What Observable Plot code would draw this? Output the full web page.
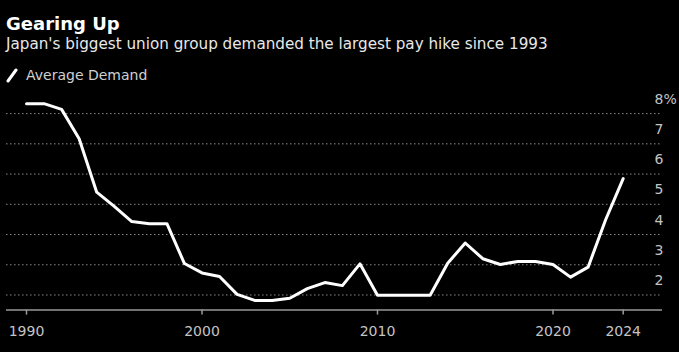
<!DOCTYPE html>
<html>
<head>
<meta charset="utf-8">
<script src="https://cdn.jsdelivr.net/npm/d3@7"></script>
<script src="https://cdn.jsdelivr.net/npm/@observablehq/plot@0.6"></script>
<style>
  html, body { margin: 0; padding: 0; background: #000; width: 679px; height: 352px; overflow: hidden; }
  body { font-family: "DejaVu Sans", sans-serif; }
  #header { position: relative; height: 88px; width: 679px; }
  #title { position: absolute; left: 6px; top: 13px; font-size: 18px; font-weight: bold; color: #fff; line-height: 22px; white-space: nowrap; }
  #subtitle { position: absolute; left: 6px; top: 35px; font-size: 15.2px; color: #e8e8e8; line-height: 19px; white-space: nowrap; }
  #legend { position: absolute; left: 6px; top: 66px; font-size: 14px; color: #d0d0d0; line-height: 18px; white-space: nowrap; display: flex; align-items: center; }
  #legend svg { margin-right: 6px; }
  #chart svg { display: block; }
</style>
</head>
<body>
<div id="header">
  <div id="title">Gearing Up</div>
  <div id="subtitle">Japan's biggest union group demanded the largest pay hike since 1993</div>
  <div id="legend"><svg width="14" height="16"><line x1="2" y1="14" x2="10" y2="3" stroke="#fff" stroke-width="3" stroke-linecap="round"/></svg><span>Average Demand</span></div>
</div>
<div id="chart"></div>
<script>
const years = [1990,1991,1992,1993,1994,1995,1996,1997,1998,1999,
               2000,2001,2002,2003,2004,2005,2006,2007,2008,2009,
               2010,2011,2012,2013,2014,2015,2016,2017,2018,2019,
               2020,2021,2022,2023,2024];
const averageDemand = [8.33,8.33,8.14,7.17,5.40,4.93,4.43,4.36,4.36,3.04,
                       2.73,2.61,2.02,1.82,1.82,1.89,2.21,2.41,2.31,3.03,
                       1.99,1.99,1.99,1.99,3.05,3.72,3.20,3.01,3.11,3.11,
                       3.01,2.59,2.92,4.49,5.85];
const xTicks = [1990, 2000, 2010, 2020, 2024];
const yTicks = [2, 3, 4, 5, 6, 7, 8];

const data = years.map((year, i) => ({year, value: averageDemand[i]}));

const chart = Plot.plot({
  width: 679,
  height: 264,
  marginLeft: 6,
  marginRight: 17,
  marginTop: 10,
  marginBottom: 42.4,
  style: { background: "#000", color: "#c4c4c4", fontFamily: "DejaVu Sans, sans-serif", fontSize: "14px" },
  x: { domain: [1988.86, 2026.24], axis: null },
  y: { domain: [1.5, 8.5], axis: null },
  marks: [
    Plot.gridY(yTicks, { stroke: "#8a8a8a", strokeOpacity: 1, strokeWidth: 1, strokeDasharray: "1.5,2.5" }),
    Plot.ruleY([1.5], { stroke: "#9a9a9a", strokeWidth: 1.5 }),
    Plot.axisX({ ticks: xTicks, tickFormat: d => String(d), tickSize: 5, tickPadding: 11, stroke: "#9a9a9a", strokeWidth: 1.5, fill: "#c4c4c4", label: null }),
    Plot.axisY({ anchor: "right", ticks: yTicks, tickSize: 0, tickPadding: -8, dy: -14.5, textAnchor: "start", fill: "#c4c4c4", label: null,
                 tickFormat: d => d === 8 ? "8%" : String(d) }),
    Plot.line(data, { x: "year", y: "value", stroke: "#fff", strokeWidth: 3, strokeLinejoin: "round", strokeLinecap: "round" })
  ]
});
document.getElementById("chart").appendChild(chart);
</script>
</body>
</html>
